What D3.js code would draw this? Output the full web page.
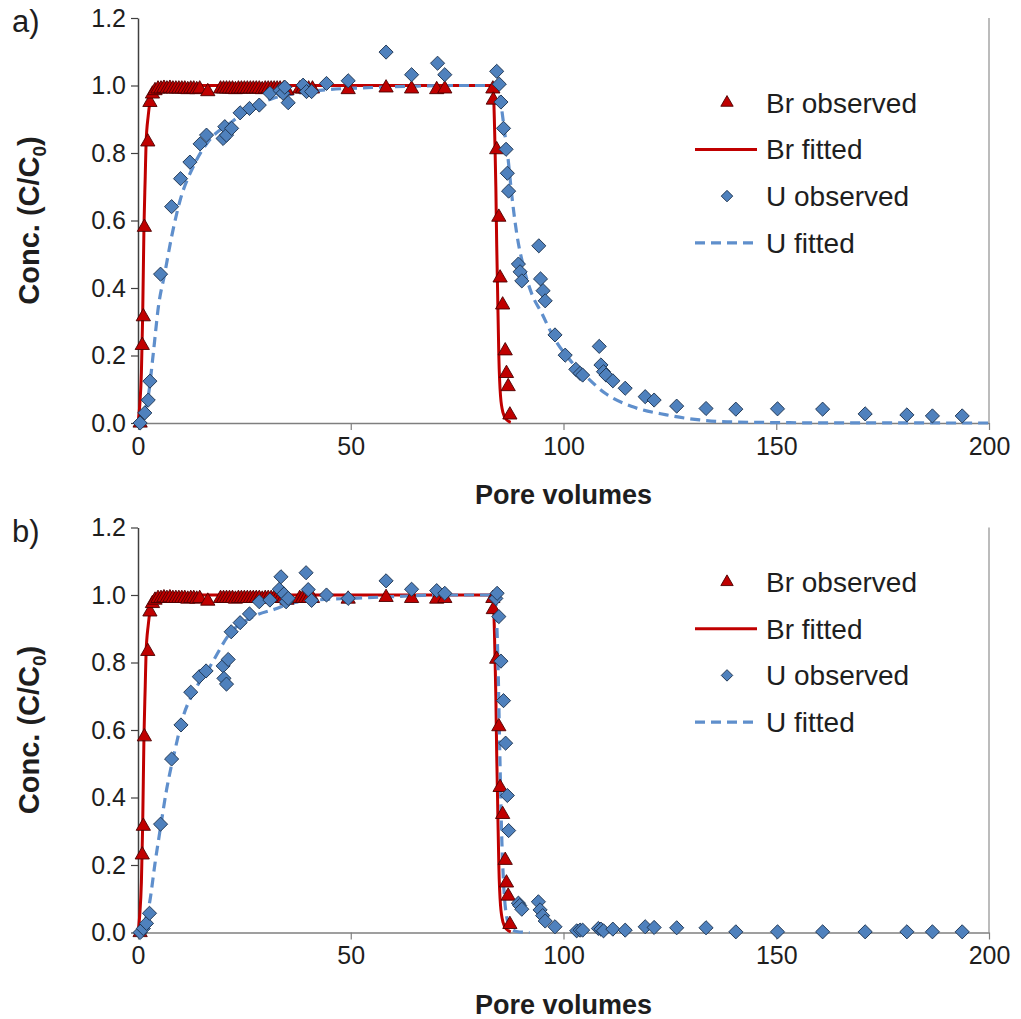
<!DOCTYPE html>
<html>
<head>
<meta charset="utf-8">
<script src="https://cdn.jsdelivr.net/npm/d3@7"></script>
<style>
  html, body { margin: 0; padding: 0; background: #fff; }
  svg { display: block; font-family: "Liberation Sans", Arial, sans-serif; }
</style>
</head>
<body>
<svg id="chart" width="1021" height="1019"></svg>
<script>
// Axis ticks and labels
const xTicks = [0, 50, 100, 150, 200];
const yTicks = [0, 0.2, 0.4, 0.6, 0.8, 1.0, 1.2];
const panelLabels = ["a)", "b)"];
const legendLabels = ["Br observed", "Br fitted", "U observed", "U fitted"];

// Bromide tracer, observed [pore volumes, C/C0] (same column run in both panels)
const brObserved = [
  [0.5, 0.0], [1.0, 0.23], [1.25, 0.315], [1.5, 0.58], [2.3, 0.833], [2.8, 0.95], [3.4, 0.975],
  [4.0, 0.985], [4.7, 0.99], [5.4, 0.99], [6.1, 0.992], [6.8, 0.99], [7.5, 0.992], [8.2, 0.99],
  [8.9, 0.99], [9.6, 0.99], [10.3, 0.99], [11.0, 0.99], [11.7, 0.988], [12.4, 0.99], [13.1, 0.99],
  [13.8, 0.988], [14.5, 0.99], [16.4, 0.982],
  [19.4, 0.99], [20.1, 0.99], [20.8, 0.99], [21.5, 0.99], [22.2, 0.99], [22.9, 0.988], [23.6, 0.99],
  [24.3, 0.99], [25.0, 0.99], [25.7, 0.99], [26.4, 0.99], [27.1, 0.99], [27.8, 0.99], [28.5, 0.99],
  [29.2, 0.988], [29.9, 0.99], [30.6, 0.99], [31.3, 0.99], [32.0, 0.99], [32.7, 0.99], [33.4, 0.99],
  [34.2, 0.99], [35.0, 0.985],
  [38.0, 0.99], [38.7, 0.99], [39.4, 0.99], [40.1, 0.99], [41.0, 0.99],
  [49.4, 0.988], [58.3, 0.993], [64.3, 0.99], [70.2, 0.988], [72.1, 0.99], [83.4, 0.99],
  [83.5, 0.957], [84.3, 0.81], [84.8, 0.61], [85.1, 0.43], [85.7, 0.35], [86.3, 0.214],
  [86.6, 0.147], [87.0, 0.108], [87.4, 0.024]
];

// Bromide fitted breakthrough curve
const brFitted = [
  [0, 0], [0.4, 0.05], [0.8, 0.15], [1.1, 0.32], [1.4, 0.58], [1.7, 0.73], [1.9, 0.83],
  [2.4, 0.91], [2.8, 0.95], [3.3, 0.975], [4.0, 0.99], [5.0, 0.997], [7.0, 1.0],
  [83.3, 1.0], [83.6, 0.96], [83.9, 0.82], [84.1, 0.7], [84.3, 0.53], [84.5, 0.4],
  [84.8, 0.2], [85.2, 0.08], [85.8, 0.03], [86.6, 0.01], [87.6, 0.002]
];

// Uranium, observed — column a
const uObservedA = [
  [0.5, 0.0], [1.6, 0.03], [2.4, 0.068], [2.8, 0.124], [5.3, 0.441], [7.9, 0.641], [10.0, 0.724],
  [12.2, 0.773], [14.6, 0.827], [16.1, 0.853], [20.0, 0.843], [20.4, 0.878], [20.8, 0.853],
  [22.0, 0.873], [24.0, 0.919], [26.2, 0.932], [28.5, 0.942], [31.0, 0.977], [33.4, 0.985],
  [34.1, 0.977], [34.5, 0.995], [35.3, 0.949], [38.8, 1.001], [39.6, 0.982], [40.8, 0.982],
  [44.3, 1.006], [49.4, 1.014], [58.3, 1.099], [64.3, 1.032], [70.4, 1.066], [72.1, 1.032],
  [84.3, 1.042], [84.9, 1.004], [85.3, 0.951], [85.9, 0.873], [86.5, 0.811], [86.8, 0.74],
  [87.1, 0.687], [89.4, 0.471], [89.8, 0.448], [90.2, 0.421], [94.2, 0.525], [94.6, 0.427],
  [95.2, 0.392], [95.7, 0.362], [98.0, 0.261], [100.4, 0.201], [102.9, 0.159], [103.9, 0.147],
  [104.5, 0.142], [108.4, 0.227], [108.8, 0.172], [109.4, 0.152], [110.0, 0.142], [111.6, 0.125],
  [114.5, 0.103], [119.2, 0.078], [121.3, 0.068], [126.6, 0.050], [133.5, 0.043], [140.5, 0.041],
  [150.3, 0.042], [160.9, 0.041], [170.9, 0.027], [180.7, 0.024], [186.7, 0.021], [193.7, 0.021]
];

// Uranium, fitted — column a
const uFittedA = [
  [0, 0], [0.5, 0.0], [1.5, 0.03], [2.4, 0.078], [3.6, 0.207], [4.8, 0.345], [6.3, 0.444],
  [7.9, 0.552], [9.9, 0.66], [13.0, 0.76], [16.9, 0.84], [21.6, 0.888], [27.1, 0.937],
  [31.8, 0.962], [38.0, 0.978], [45.0, 0.988], [55.0, 0.994], [65.0, 0.998], [75.0, 1.0],
  [84.0, 1.0], [84.7, 0.99], [85.5, 0.927], [86.3, 0.848], [87.0, 0.78], [87.8, 0.68],
  [89.0, 0.562], [90.6, 0.463], [92.5, 0.384], [94.9, 0.325], [97.6, 0.256], [101.5, 0.187],
  [105.4, 0.137], [109.8, 0.088], [116.3, 0.048], [124.2, 0.024], [132.0, 0.009], [140.0, 0.003],
  [160.0, 0.0005], [200.0, 0]
];

// Uranium, observed — column b
const uObservedB = [
  [0.5, 0.0], [1.25, 0.012], [2.0, 0.027], [2.7, 0.057], [5.3, 0.321], [7.9, 0.514], [10.1, 0.615],
  [12.4, 0.712], [14.4, 0.758], [16.0, 0.775], [20.0, 0.79], [20.2, 0.753], [20.8, 0.736],
  [21.2, 0.809], [21.9, 0.891], [24.0, 0.918], [26.2, 0.944], [28.5, 0.98], [31.0, 0.985],
  [33.2, 1.017], [33.6, 1.054], [34.3, 1.003], [34.8, 0.98], [35.3, 0.99], [39.5, 1.066],
  [40.0, 1.016], [40.8, 0.984], [44.3, 1.0], [49.4, 0.99], [58.3, 1.042], [64.3, 1.017],
  [70.2, 1.013], [72.1, 1.005], [84.1, 0.99], [84.4, 1.005], [84.8, 0.936], [85.3, 0.804],
  [85.9, 0.687], [86.4, 0.561], [86.8, 0.406], [87.1, 0.302], [89.4, 0.087], [89.7, 0.08],
  [90.2, 0.069], [94.1, 0.091], [94.5, 0.067], [95.1, 0.05], [95.7, 0.034], [98.0, 0.017],
  [103.1, 0.005], [103.9, 0.007], [104.5, 0.007], [108.2, 0.012], [108.8, 0.01], [109.4, 0.005],
  [111.6, 0.01], [114.5, 0.007], [119.2, 0.017], [121.3, 0.015], [126.6, 0.014], [133.5, 0.014],
  [140.5, 0.002], [150.3, 0.002], [160.9, 0.002], [170.9, 0.002], [180.7, 0.002], [186.7, 0.002],
  [193.7, 0.002]
];

// Uranium, fitted — column b
const uFittedB = [
  [0, 0], [0.5, 0.005], [1.5, 0.03], [2.7, 0.087], [4.0, 0.205], [5.2, 0.304], [6.7, 0.422],
  [8.7, 0.541], [10.6, 0.639], [13.4, 0.719], [16.9, 0.788], [21.6, 0.886], [27.1, 0.936],
  [32.6, 0.96], [35.7, 0.975], [42.0, 0.985], [50.0, 0.99], [60.0, 0.995], [70.0, 1.0],
  [83.8, 1.0], [84.2, 0.95], [84.6, 0.8], [85.0, 0.55], [85.4, 0.32], [85.9, 0.15],
  [86.6, 0.05], [87.5, 0.015], [89.0, 0.003], [92.0, 0]
];

const RED = "#c00000", RED_EDGE = "#4d0000";
const BLUE = "#4f81bd", BLUE_EDGE = "#1f3552";
const BLUE_LINE = "#5f8fcc";
const INK = "#1e1e1e";

const svg = d3.select("#chart");
svg.append("rect").attr("width", 1021).attr("height", 1019).attr("fill", "#fff");

const panels = [
  { top: 18, bottom: 423, label: panelLabels[0], legendY: 102.7, uObs: uObservedA, uFit: uFittedA },
  { top: 527.5, bottom: 932.5, label: panelLabels[1], legendY: 582, uObs: uObservedB, uFit: uFittedB }
];

const triangle = d3.symbol().type(d3.symbolTriangle).size(88);
const square = d3.symbol().type(d3.symbolSquare).size(100);

function drawTriangles(g, data, x, y) {
  g.selectAll(null).data(data).join("path")
    .attr("d", triangle)
    .attr("transform", d => `translate(${x(d[0])},${y(d[1])})`)
    .attr("fill", RED).attr("stroke", RED_EDGE).attr("stroke-width", 0.9);
}
function drawDiamonds(g, data, x, y) {
  g.selectAll(null).data(data).join("path")
    .attr("d", square)
    .attr("transform", d => `translate(${x(d[0])},${y(d[1])}) rotate(45)`)
    .attr("fill", BLUE).attr("stroke", BLUE_EDGE).attr("stroke-width", 0.9);
}

panels.forEach(p => {
  const x = d3.scaleLinear().domain([0, 200]).range([138, 989]);
  const y = d3.scaleLinear().domain([0, 1.2]).range([p.bottom, p.top]);
  const g = svg.append("g");

  // right frame edge
  g.append("line")
    .attr("x1", x(200)).attr("x2", x(200)).attr("y1", y(1.2)).attr("y2", y(0))
    .attr("stroke", "#a6a6a6").attr("stroke-width", 1.5);

  // axes
  const ya = g.append("g").attr("transform", `translate(${x(0)},0)`)
    .call(d3.axisLeft(y).tickValues(yTicks).tickFormat(d3.format(".1f"))
      .tickSize(7).tickSizeOuter(0).tickPadding(5));
  ya.select(".domain").attr("stroke", "#404040").attr("stroke-width", 1.5);
  ya.selectAll(".tick line").attr("stroke", "#404040").attr("stroke-width", 1.2);
  ya.selectAll(".tick text").attr("font-size", 25).attr("fill", INK)
    .attr("font-family", "'Liberation Sans', Arial, sans-serif");

  const xa = g.append("g").attr("transform", `translate(0,${y(0)})`)
    .call(d3.axisBottom(x).tickValues(xTicks).tickFormat(d3.format("d"))
      .tickSize(7).tickSizeOuter(0).tickPadding(7));
  xa.select(".domain").attr("stroke", "#7f7f7f").attr("stroke-width", 1.5);
  xa.selectAll(".tick line").attr("stroke", "#7f7f7f").attr("stroke-width", 1.2);
  xa.selectAll(".tick text").attr("font-size", 25).attr("fill", INK)
    .attr("font-family", "'Liberation Sans', Arial, sans-serif");

  // axis titles
  g.append("text")
    .attr("x", (x(0) + x(200)) / 2).attr("y", y(0) + 81)
    .attr("text-anchor", "middle").attr("font-size", 27).attr("font-weight", "bold")
    .attr("fill", INK).text("Pore volumes");

  const yt = g.append("text")
    .attr("transform", `translate(39,${(y(0) + y(1.2)) / 2}) rotate(-90)`)
    .attr("text-anchor", "middle").attr("font-size", 29).attr("font-weight", "bold")
    .attr("fill", INK);
  yt.append("tspan").text("Conc. (C/C");
  yt.append("tspan").attr("font-size", 19).attr("dy", 7).text("0");
  yt.append("tspan").attr("dy", -7).text(")");

  // panel letter
  g.append("text").attr("x", 12).attr("y", y(1.2) + 14)
    .attr("font-size", 31).attr("fill", INK).text(p.label);

  // fitted curves
  const line = d3.line().x(d => x(d[0])).y(d => y(d[1])).curve(d3.curveMonotoneX);
  g.append("path").datum(brFitted).attr("d", line)
    .attr("fill", "none").attr("stroke", RED).attr("stroke-width", 3);
  g.append("path").datum(p.uFit).attr("d", line)
    .attr("fill", "none").attr("stroke", BLUE_LINE).attr("stroke-width", 3.2)
    .attr("stroke-dasharray", "10,6");

  // observed points
  drawTriangles(g.append("g"), brObserved, x, y);
  drawDiamonds(g.append("g"), p.uObs, x, y);

  // legend
  const lg = g.append("g");
  const rowGap = 46.7;
  legendLabels.forEach((txt, i) => {
    const ry = p.legendY + i * rowGap;
    lg.append("text").attr("x", 766).attr("y", ry).attr("dy", "0.35em")
      .attr("font-size", 28).attr("fill", INK).text(txt);
  });
  lg.append("path").attr("d", d3.symbol().type(d3.symbolTriangle).size(66))
    .attr("transform", `translate(727,${p.legendY})`)
    .attr("fill", RED).attr("stroke", RED_EDGE).attr("stroke-width", 0.9);
  lg.append("line").attr("x1", 695).attr("x2", 757)
    .attr("y1", p.legendY + rowGap).attr("y2", p.legendY + rowGap)
    .attr("stroke", RED).attr("stroke-width", 3);
  lg.append("path").attr("d", d3.symbol().type(d3.symbolSquare).size(66))
    .attr("transform", `translate(727,${p.legendY + 2 * rowGap}) rotate(45)`)
    .attr("fill", BLUE).attr("stroke", BLUE_EDGE).attr("stroke-width", 0.9);
  lg.append("line").attr("x1", 695).attr("x2", 757)
    .attr("y1", p.legendY + 3 * rowGap).attr("y2", p.legendY + 3 * rowGap)
    .attr("stroke", BLUE_LINE).attr("stroke-width", 3.2).attr("stroke-dasharray", "10,6");
});
</script>
</body>
</html>
